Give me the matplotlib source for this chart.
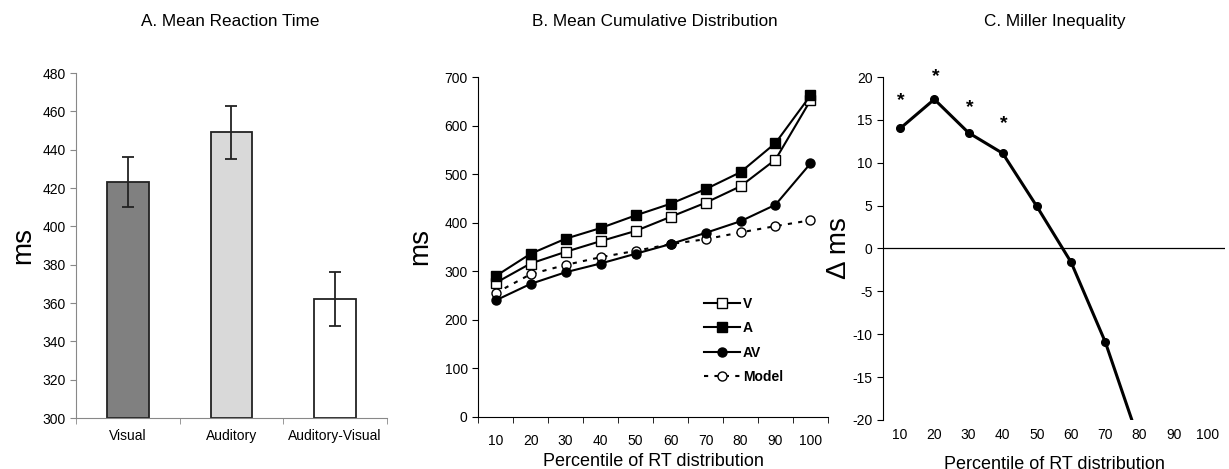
import numpy as np
import matplotlib
matplotlib.use("Agg")
import matplotlib.pyplot as plt
from matplotlib.ticker import FixedLocator

plt.rcParams['font.family'] = ['Liberation Sans', 'DejaVu Sans']
plt.rcParams['axes.unicode_minus'] = False

# Panel A data
conditions = ['Visual', 'Auditory', 'Auditory-Visual']
mean_rt = [423, 449, 362]
rt_err = [13, 14, 14]
bar_colors = ['#808080', '#d9d9d9', '#ffffff']

# Panel B data
percentiles = [10, 20, 30, 40, 50, 60, 70, 80, 90, 100]
cdf_v = [276, 316, 340, 362, 383, 412, 441, 475, 530, 652]
cdf_a = [290, 336, 367, 389, 415, 439, 469, 504, 564, 662]
cdf_av = [240, 274, 298, 316, 336, 356, 379, 403, 437, 522]
cdf_model = [255, 294, 313, 329, 342, 356, 366, 380, 393, 405]

# Panel C data
miller_pct = [10, 20, 30, 40, 50, 60, 70, 80]
miller_diff = [14.0, 17.4, 13.5, 11.1, 4.9, -1.6, -10.9, -22.6]
star_pct = [10, 20, 30, 40]
star_y = [17.2, 20.0, 16.4, 14.6]

fig = plt.figure(figsize=(12.29, 4.69), dpi=100)

# ---- A. Mean Reaction Time
axA = fig.add_axes([0.0618, 0.1087, 0.2531, 0.7356])
xa = np.arange(1, len(conditions) + 1)
axA.bar(xa, [m - 300 for m in mean_rt], bottom=300, width=0.4, color=bar_colors,
        edgecolor='#222222', linewidth=1.3, zorder=2)
axA.errorbar(xa, mean_rt, yerr=rt_err, fmt='none', ecolor='#222222',
             elinewidth=1.3, capsize=4, capthick=1.3, zorder=3)
axA.set_xlim(0.5, 3.5)
axA.set_ylim(300, 480)
axA.set_yticks(range(300, 481, 20))
axA.set_xticks(xa)
axA.set_xticklabels(conditions, fontsize=10)
axA.xaxis.set_minor_locator(FixedLocator([0.5, 1.5, 2.5, 3.5]))
axA.tick_params(axis='x', which='major', length=0, pad=8)
axA.tick_params(axis='x', which='minor', length=4, color='#888888')
axA.tick_params(axis='y', labelsize=10, length=4, color='#888888')
for s in ['top', 'right']:
    axA.spines[s].set_visible(False)
for s in ['left', 'bottom']:
    axA.spines[s].set_color('#888888')
axA.set_ylabel('ms', fontsize=20, labelpad=4)
fig.text(0.187, 0.955, 'A. Mean Reaction Time', ha='center', va='center', fontsize=12.3)

# ---- B. Mean Cumulative Distribution
axB = fig.add_axes([0.389, 0.1109, 0.2847, 0.7249])
xb = np.arange(1, len(percentiles) + 1)
axB.plot(xb, cdf_v, '-s', color='black', mfc='white', mec='black', ms=6.5, lw=1.5, label='V', zorder=3)
axB.plot(xb, cdf_a, '-s', color='black', mfc='black', ms=6.5, lw=1.5, label='A', zorder=3)
axB.plot(xb, cdf_av, '-o', color='black', mfc='black', ms=6.5, lw=1.5, label='AV', zorder=3)
axB.plot(xb, cdf_model, ':o', color='black', mfc='white', mec='black', ms=6.5, lw=1.5,
         dashes=(2, 3), label='Model', zorder=2)
axB.set_xlim(0.5, 10.5)
axB.set_ylim(0, 700)
axB.set_yticks(range(0, 701, 100))
axB.set_xticks(xb)
axB.set_xticklabels([str(p) for p in percentiles], fontsize=10)
axB.xaxis.set_minor_locator(FixedLocator(np.arange(0.5, 10.6, 1)))
axB.tick_params(axis='x', which='major', length=0, pad=12)
axB.tick_params(axis='x', which='minor', length=4)
axB.tick_params(axis='y', labelsize=10, length=4)
for s in ['top', 'right']:
    axB.spines[s].set_visible(False)
axB.set_ylabel('ms', fontsize=20, labelpad=8)
axB.set_xlabel('Percentile of RT distribution', fontsize=13, labelpad=4)
leg = axB.legend(loc='upper left', bbox_to_anchor=(0.61, 0.39), frameon=False,
                 handlelength=2.6, handletextpad=0.2, labelspacing=0.75,
                 prop={'weight': 'bold', 'size': 10})
fig.text(0.533, 0.955, 'B. Mean Cumulative Distribution', ha='center', va='center', fontsize=12.3)

# ---- C. Miller Inequality
axC = fig.add_axes([0.7185, 0.1045, 0.2782, 0.7313])
xc = np.array(miller_pct) / 10.0
axC.plot(xc, miller_diff, '-o', color='black', ms=5.5, lw=2.2, zorder=3)
axC.axhline(0, color='black', lw=0.9, zorder=1)
for p, y in zip(star_pct, star_y):
    axC.text(p / 10.0 + 0.03, y, '*', ha='center', va='center', fontsize=14, fontweight='bold')
axC.set_xlim(0.5, 10.5)
axC.set_ylim(-20, 20)
axC.set_yticks(range(-20, 21, 5))
axC.set_xticks(np.arange(1, 11))
axC.set_xticklabels([str(p) for p in percentiles], fontsize=10)
axC.tick_params(axis='x', length=0, pad=6)
axC.tick_params(axis='y', labelsize=10, length=4)
for s in ['top', 'right', 'bottom']:
    axC.spines[s].set_visible(False)
axC.set_ylabel('Δ ms', fontsize=20, labelpad=0)
axC.set_xlabel('Percentile of RT distribution', fontsize=13, labelpad=10)
fig.text(0.858, 0.955, 'C. Miller Inequality', ha='center', va='center', fontsize=12.3)

fig.savefig('out.png', dpi=100)
